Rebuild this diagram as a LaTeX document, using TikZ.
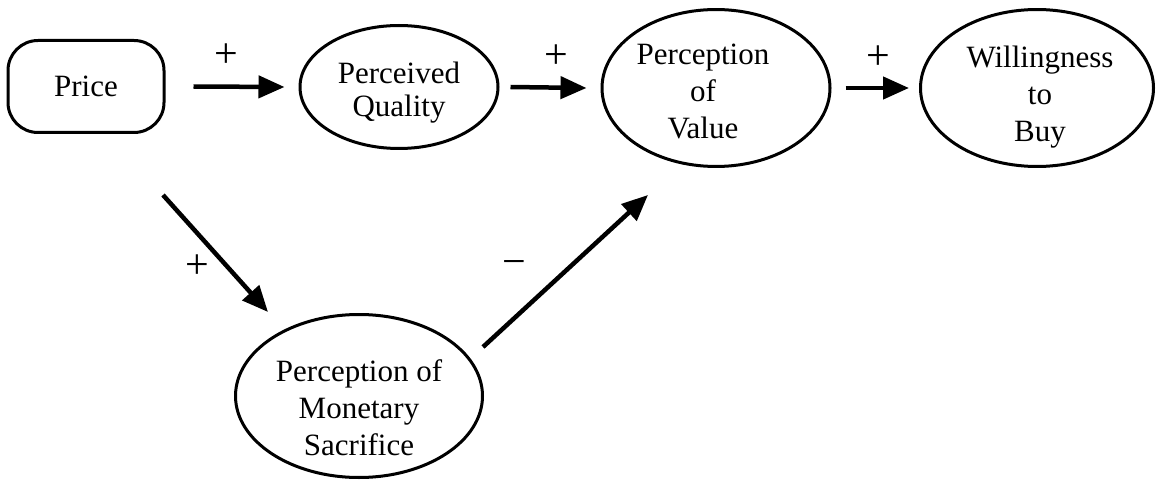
\documentclass[tikz,border=0pt]{standalone}
\usepackage{fontspec}
\setmainfont{Liberation Serif}
\usetikzlibrary{arrows.meta,shapes.geometric}
% move the text block inside its node without changing the node's size
\newcommand{\movedtext}[3]{\raisebox{-#2}[\height][\depth]{\hbox{\kern#1\begin{tabular}{@{}c@{}}#3\end{tabular}\kern-#1}}}
\begin{document}
\begin{tikzpicture}[x=1pt,y=-1pt,
  every node/.style={font=\fontsize{31}{37}\selectfont, align=center, inner sep=0pt},
  oval/.style={draw, ellipse, line width=3pt},
  box/.style={draw, rectangle, rounded corners=30pt, line width=3pt},
  conn/.style={line width=4.5pt, -{Triangle[length=26pt,width=22pt]}},
  sign/.style={font=\fontsize{42}{42}\selectfont}]
\useasboundingbox (0,0) rectangle (1157,481);
\node[box, minimum width=156pt, minimum height=92pt] (price) at (86,86.5) {Price};
\node[oval, minimum width=198pt, minimum height=123pt] (pq) at (399,87)
  {\fontsize{31}{33}\selectfont\movedtext{0pt}{6pt}{Perceived\\Quality}};
\node[oval, minimum width=228pt, minimum height=156pt] (pv) at (716,88)
  {\movedtext{-13pt}{6pt}{Perception\\of\\Value}};
\node[oval, minimum width=233pt, minimum height=156pt] (wb) at (1037,88)
  {\movedtext{3pt}{9pt}{Willingness\\to\\Buy}};
\node[oval, minimum width=247pt, minimum height=163pt] (pms) at (359,396)
  {\movedtext{0pt}{15pt}{Perception of\\Monetary\\Sacrifice}};

\draw[conn] ([xshift=28pt]price.east) -- ([xshift=-14pt]pq.west);
\draw[conn] ([xshift=11pt]pq.east) -- ([xshift=-14pt]pv.west);
\draw[conn] ([xshift=14pt]pv.east) -- ([xshift=-10pt]wb.west);
\draw[conn] ([shift={(77,61)}]price.south) -- ([shift={(-91,-1)}]pms.north);
\draw[conn] ([shift={(-1,-49)}]pms.east) -- ([shift={(-68,27)}]pv.south);

\node[sign] (s1) at (226,56) {+};
\node[sign] (s2) at (556,57) {+};
\node[sign] (s3) at (878,58) {+};
\node[sign] (s4) at (197,267) {+};
\node[sign] (s5) at (514,268) {−};
\end{tikzpicture}
\end{document}
